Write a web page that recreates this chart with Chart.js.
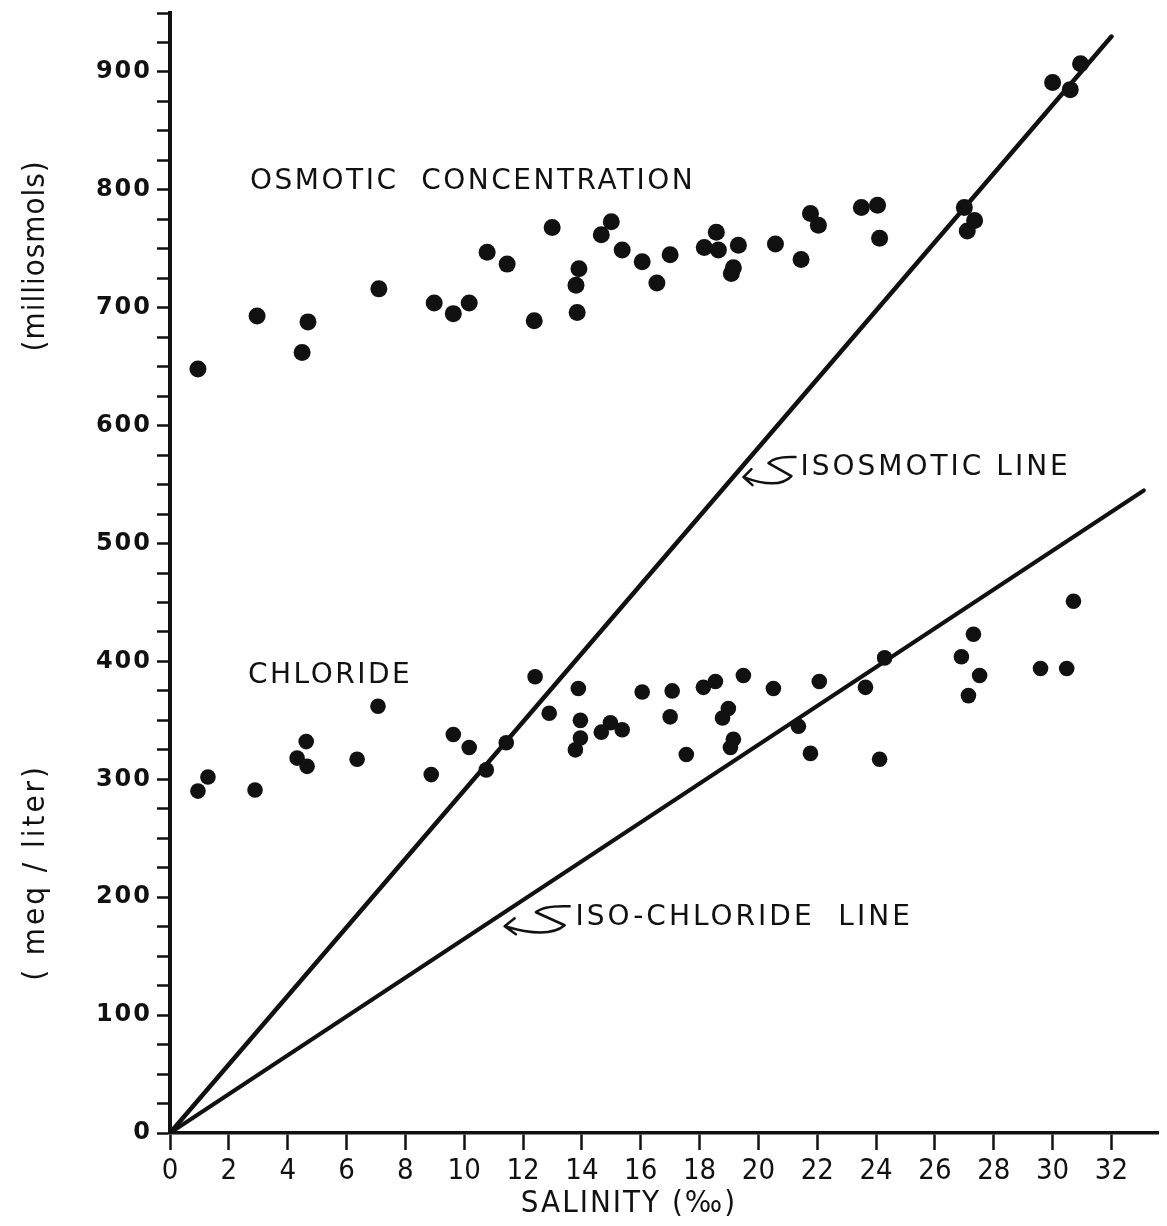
<!DOCTYPE html>
<html>
<head>
<meta charset="utf-8">
<title>Osmotic and chloride concentration vs salinity</title>
<script src="https://cdn.jsdelivr.net/npm/chart.js@4.4.1/dist/chart.umd.min.js"></script>
<style>
  html, body { margin: 0; padding: 0; background: #fff; }
  #wrap { width: 1167px; height: 1226px; }
</style>
</head>
<body>
<div id="wrap"><canvas id="chart" width="1167" height="1226"></canvas></div>
<script>
// Osmotic concentration (milliosmols) vs salinity (per mille)
const osmoticX = [0.95, 2.96, 4.49, 4.69, 7.1, 8.98, 9.63, 10.17, 10.78, 11.46, 12.38, 12.99, 13.8, 13.9, 13.84,
  14.66, 15.0, 15.37, 16.05, 16.55, 17.0, 18.16, 18.57, 18.64, 19.08, 19.15, 19.32, 20.58, 21.45, 21.77,
  22.04, 23.5, 24.05, 24.12, 27.0, 27.1, 27.35, 30.0, 30.6, 30.95];
const osmoticY = [648, 693, 662, 688, 716, 704, 695, 704, 747, 737, 689, 768, 719, 733, 696,
  762, 773, 749, 739, 721, 745, 751, 764, 749, 729, 734, 753, 754, 741, 780,
  770, 785, 787, 759, 785, 765, 774, 891, 885, 907];

// Chloride (meq / liter) vs salinity
const chlorideX = [0.95, 1.29, 2.89, 4.32, 4.66, 4.63, 6.36, 7.07, 8.88, 9.63, 10.17, 10.75, 11.43, 12.41,
  12.89, 13.88, 13.95, 13.95, 13.78, 14.66, 14.97, 15.37, 16.05, 17.0, 17.07, 17.55, 18.13, 18.54,
  18.78, 18.98, 19.15, 19.05, 19.49, 20.51, 21.36, 21.77, 22.07, 23.64, 24.12, 24.29, 26.9, 27.31,
  27.52, 27.14, 29.59, 30.48, 30.71];
const chlorideY = [290, 302, 291, 318, 311, 332, 317, 362, 304, 338, 327, 308, 331, 387,
  356, 377, 350, 335, 325, 340, 348, 342, 374, 353, 375, 321, 378, 383,
  352, 360, 334, 327, 388, 377, 345, 322, 383, 378, 317, 403, 404, 423,
  388, 371, 394, 394, 451];

// Reference lines (start and end points)
const isosmoticX = [0, 32.0];
const isosmoticY = [0, 930];
const isoChlorideX = [0, 33.1];
const isoChlorideY = [0, 545];

// Axis ticks
const xTickValues = [0, 2, 4, 6, 8, 10, 12, 14, 16, 18, 20, 22, 24, 26, 28, 30, 32];
const yTickLabels = [0, 100, 200, 300, 400, 500, 600, 700, 800, 900];

const toPoints = (xs, ys) => xs.map((x, i) => ({ x, y: ys[i] }));

const ink = '#111';
const condensed = '"DejaVu Sans Condensed", "Liberation Sans Narrow", "DejaVu Sans", sans-serif';

// Wide spacing for the y tick numbers only: y labels draw before the
// datasets (ticks.z 0), x labels after them (ticks.z 1), reset in between.
const yLabelSpacing = {
  id: 'yLabelSpacing',
  beforeDraw(chart) {
    if ('letterSpacing' in chart.ctx) chart.ctx.letterSpacing = '2px';
  },
  beforeDatasetsDraw(chart) {
    if ('letterSpacing' in chart.ctx) chart.ctx.letterSpacing = '0px';
  },
};

// Hand-lettered labels and axis titles
const annotations = {
  id: 'annotations',
  afterDraw(chart) {
    const { ctx } = chart;
    const xs = chart.scales.x;
    const ys = chart.scales.y;
    const px = (v) => xs.getPixelForValue(v);
    const py = (v) => ys.getPixelForValue(v);

    const text = (str, x, y, font, spacing, align) => {
      ctx.save();
      ctx.font = font;
      ctx.fillStyle = ink;
      ctx.textAlign = align || 'left';
      ctx.textBaseline = 'middle';
      if ('letterSpacing' in ctx) ctx.letterSpacing = spacing + 'px';
      ctx.fillText(str, x, y);
      ctx.restore();
    };

    // curly arrow with an "S" stroke, drawn to the left of a label
    const curlyArrow = (x, y, k) => {
      ctx.save();
      ctx.strokeStyle = ink;
      ctx.lineWidth = 2.5;
      ctx.lineCap = 'round';
      ctx.lineJoin = 'round';
      ctx.beginPath();
      ctx.moveTo(x - 3 * k, y - 11);
      ctx.quadraticCurveTo(x - 24 * k, y - 12, x - 30 * k, y - 5);
      ctx.lineTo(x - 7 * k, y + 8);
      ctx.quadraticCurveTo(x - 20 * k, y + 22, x - 55 * k, y + 9);
      ctx.moveTo(x - 47 * k, y + 1);
      ctx.lineTo(x - 55 * k, y + 9);
      ctx.lineTo(x - 46 * k, y + 17);
      ctx.stroke();
      ctx.restore();
    };

    const labelFont = '28px "DejaVu Sans", sans-serif';
    text('OSMOTIC  CONCENTRATION', px(2.72), py(807), labelFont, 2.5);
    text('CHLORIDE', px(2.65), py(388), labelFont, 2.5);
    text('ISOSMOTIC LINE', px(21.43), py(564), labelFont, 3);
    curlyArrow(px(21.43) - 2, py(564), 1);
    text('ISO-CHLORIDE  LINE', px(13.78), py(183), labelFont, 3);
    curlyArrow(px(13.78) - 2, py(183), 1.25);

    // y axis titles (rotated)
    const vtext = (str, cx, cy, spacing) => {
      ctx.save();
      ctx.translate(cx, cy);
      ctx.rotate(-Math.PI / 2);
      text(str, 0, 0, '31px ' + condensed, spacing, 'center');
      ctx.restore();
    };
    vtext('(milliosmols)', 36, py(744), 1);
    vtext('( meq / liter)', 36, py(221), 3);

    // x axis title
    text('SALINITY (‰)', px(15.6), chart.chartArea.bottom + 71, '31px ' + condensed, 2, 'center');
  },
};

const ctx = document.getElementById('chart');
new Chart(ctx, {
  type: 'scatter',
  data: {
    datasets: [
      {
        label: 'Osmotic concentration',
        data: toPoints(osmoticX, osmoticY),
        backgroundColor: ink,
        borderColor: ink,
        pointRadius: 8.5,
        pointBorderWidth: 0,
        order: 0,
      },
      {
        label: 'Chloride',
        data: toPoints(chlorideX, chlorideY),
        backgroundColor: ink,
        borderColor: ink,
        pointRadius: 7.8,
        pointBorderWidth: 0,
        order: 0,
      },
      {
        label: 'Isosmotic line',
        data: toPoints(isosmoticX, isosmoticY),
        showLine: true,
        borderColor: ink,
        borderWidth: 4.5,
        borderCapStyle: 'round',
        pointRadius: 0,
        order: 1,
      },
      {
        label: 'Iso-chloride line',
        data: toPoints(isoChlorideX, isoChlorideY),
        showLine: true,
        borderColor: ink,
        borderWidth: 4,
        borderCapStyle: 'round',
        pointRadius: 0,
        order: 1,
      },
    ],
  },
  options: {
    responsive: false,
    animation: false,
    layout: {
      padding: { left: 0, right: 7, top: 13, bottom: 0 },
    },
    plugins: {
      legend: { display: false },
      tooltip: { enabled: false },
    },
    scales: {
      x: {
        type: 'linear',
        min: 0,
        max: 33.6,
        afterBuildTicks: (scale) => {
          scale.ticks = xTickValues.map((v) => ({ value: v }));
        },
        afterFit: (scale) => {
          scale.height = 93;
          scale.paddingRight = 0;
        },
        border: { display: true, color: ink, width: 3.5 },
        grid: {
          drawOnChartArea: false,
          drawTicks: true,
          tickLength: 17,
          tickColor: ink,
          tickWidth: 2.5,
        },
        ticks: {
          z: 1,
          autoSkip: false,
          maxRotation: 0,
          padding: 4,
          color: ink,
          font: { family: condensed, size: 29 },
        },
      },
      y: {
        type: 'linear',
        min: 0,
        max: 950,
        afterFit: (scale) => {
          scale.width = 170;
          scale.paddingTop = 0;
          scale.paddingBottom = 0;
        },
        border: { display: true, color: ink, width: 4 },
        grid: {
          drawOnChartArea: false,
          drawTicks: true,
          tickLength: 13,
          tickColor: ink,
          tickWidth: 2.5,
        },
        ticks: {
          z: 0,
          stepSize: 25,
          autoSkip: false,
          padding: 5,
          color: ink,
          font: { family: '"DejaVu Sans", sans-serif', size: 24, weight: 'bold' },
          callback: (v) => (yTickLabels.includes(v) ? String(v) : ''),
        },
      },
    },
  },
  plugins: [yLabelSpacing, annotations],
});
</script>
</body>
</html>
